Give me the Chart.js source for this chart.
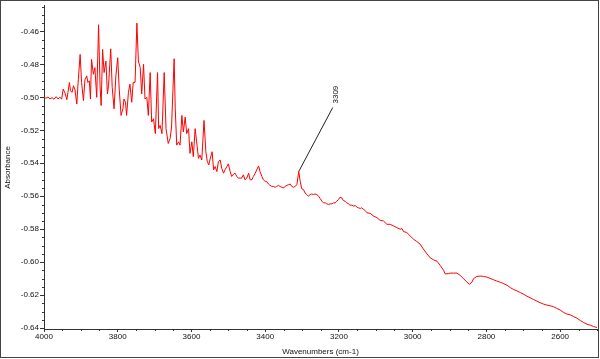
<!DOCTYPE html>
<html><head><meta charset="utf-8">
<script src="https://cdn.jsdelivr.net/npm/chart.js@4"></script>
<style>html,body{margin:0;padding:0;background:#fff}#wrap{width:600px;height:359px;position:relative}</style>
</head><body><div id="wrap"><canvas id="c" width="600" height="359"></canvas></div>
<script>
const wavenumbers = [
4000,3995,3989,3984,3978,3973,3967,3962,3957,3952,
3948,3943,3938,3935,3931,3928,3924,3920,3916,3911,
3907,3902,3898,3893,3889,3884,3881,3877,3874,3871,
3866,3862,3857,3852,3848,3845,3841,3837,3832,3828,
3825,3819,3815,3810,3805,3800,3796,3791,3786,3783,
3779,3776,3771,3767,3762,3758,3753,3748,3744,3739,
3735,3730,3726,3721,3717,3712,3708,3703,3698,3692,
3689,3685,3680,3674,3669,3663,3658,3654,3647,3644,
3640,3635,3631,3626,3622,3617,3613,3608,3604,3599,
3595,3590,3586,3581,3577,3572,3566,3561,3557,3553,
3550,3544,3540,3536,3531,3527,3522,3518,3513,3509,
3504,3500,3495,3491,3486,3482,3477,3473,
3464,3459,3455,3450,3445,3441,3436,3432,3427,3423,
3418,3414,3409,3405,3400,3396,3391,3387,3382,3378,
3373,3369,3364,3360,3355,3350,3346,3341,3337,3332,
3328,3323,3319,3314,3309,3305,3301,3296,3292,3287,
3283,3278,3274,3269,3265,3260,3255,3251,3246,3242,
3237,3233,3228,3224,3219,3215,3210,3206,3201,3197,
3192,3188,3183,3179,3174,3170,3165,3160,3156,3151,
3147,3142,3138,3133,3129,
3124,3115,3106,3097,3088,3079,3070,3061,3052,3043,
3034,3029,3025,3016,3007,2998,2989,2980,2971,2961,
2952,2943,2934,2925,2916,2912,2903,2898,
2889,2880,2871,2862,2853,2846,2839,2835,2826,2817,
2808,2799,2790,2781,2772,2762,2753,2744,2735,2726,
2717,2708,2699,2690,2681,2672,2663,2654,2645,2636,
2627,2618,2609,2600,2591,2582,2572,2563,2554,2545,
2536,2527,2518,2509,2500
];
const absorbance = [
-0.4996,-0.5006,-0.4998,-0.5010,-0.5002,-0.5012,-0.4996,-0.5010,-0.5000,-0.5010,
-0.4950,-0.4974,-0.5014,-0.4970,-0.4910,-0.4960,-0.4970,-0.4930,-0.4954,-0.5040,
-0.4894,-0.4740,-0.4910,-0.5020,-0.4894,-0.4870,-0.4910,-0.4900,-0.5010,-0.4770,
-0.4860,-0.4820,-0.5000,-0.4560,-0.4930,-0.5050,-0.4710,-0.4850,-0.4780,-0.4980,
-0.4930,-0.4706,-0.4940,-0.5070,-0.4870,-0.4760,-0.4950,-0.5110,-0.5070,-0.5010,
-0.5030,-0.5110,-0.4970,-0.4920,-0.5030,-0.4910,-0.4910,-0.4550,-0.4780,-0.4820,
-0.4980,-0.4800,-0.5010,-0.5000,-0.5110,-0.4850,-0.5150,-0.5130,-0.5220,-0.4850,
-0.5190,-0.5170,-0.5220,-0.4850,-0.5190,-0.5280,-0.5250,-0.5180,-0.4766,-0.5070,
-0.5290,-0.5270,-0.5290,-0.5110,-0.5210,-0.5120,-0.5220,-0.5190,-0.5340,-0.5270,
-0.5360,-0.5190,-0.5270,-0.5370,-0.5350,-0.5380,-0.5140,-0.5330,-0.5390,-0.5410,
-0.5380,-0.5330,-0.5440,-0.5420,-0.5450,-0.5390,-0.5380,-0.5430,-0.5460,-0.5440,
-0.5420,-0.5404,-0.5450,-0.5480,-0.5466,-0.5460,-0.5480,-0.5490,
-0.549,-0.547,-0.550,-0.549,-0.546,-0.550,-0.550,-0.548,-0.546,-0.544,
-0.5416,-0.545,-0.548,-0.550,-0.551,-0.551,-0.5526,-0.5534,-0.554,-0.554,
-0.5546,-0.554,-0.5534,-0.554,-0.5546,-0.555,-0.554,-0.5534,-0.553,-0.5526,
-0.554,-0.5546,-0.554,-0.553,-0.545,-0.551,-0.5554,-0.556,-0.558,-0.559,
-0.560,-0.559,-0.5586,-0.559,-0.5586,-0.559,-0.560,-0.5614,-0.563,-0.564,
-0.564,-0.5646,-0.565,-0.5646,-0.5646,-0.564,-0.564,-0.563,-0.562,-0.5606,
-0.561,-0.5626,-0.563,-0.564,-0.5646,-0.5654,-0.5654,-0.566,-0.5656,-0.5666,
-0.567,-0.5674,-0.567,-0.568,-0.5686,
-0.570,-0.5704,-0.572,-0.573,-0.5746,-0.575,-0.577,-0.577,-0.578,-0.579,
-0.580,-0.5796,-0.5814,-0.582,-0.584,-0.586,-0.5874,-0.589,-0.592,-0.595,
-0.5974,-0.5986,-0.5994,-0.602,-0.605,-0.607,-0.607,-0.6066,
-0.6066,-0.6066,-0.608,-0.610,-0.612,-0.6134,-0.612,-0.610,-0.6086,-0.6084,
-0.6086,-0.609,-0.6098,-0.6106,-0.6114,-0.6122,-0.613,-0.614,-0.6154,-0.6166,
-0.6174,-0.6184,-0.6194,-0.6206,-0.6216,-0.6226,-0.6236,-0.6246,-0.6254,-0.626,
-0.6264,-0.627,-0.628,-0.629,-0.6304,-0.6314,-0.632,-0.633,-0.634,-0.6354,
-0.6366,-0.6376,-0.6382,-0.639,-0.6396
];
const xTickValues = [4000,3800,3600,3400,3200,3000,2800,2600];
const yTickValues = [-0.64,-0.62,-0.60,-0.58,-0.56,-0.54,-0.52,-0.50,-0.48,-0.46];
const peakWavenumbers = [3309];
const peakAbsorbance = [-0.545];
const xTitle = 'Wavenumbers (cm-1)';
const yTitle = 'Absorbance';

const FONT = '"Liberation Sans", Arial, sans-serif';

const extras = {
  id: 'extras',
  afterDraw(chart) {
    const {ctx, chartArea: a, scales: {x, y}} = chart;
    ctx.save();
    ctx.strokeStyle = '#333';
    ctx.lineWidth = 1;
    ctx.beginPath();
    for (let w = 2500; w <= 4000; w += 50) {
      if (w % 200 === 0) continue;
      const px = Math.round(x.getPixelForValue(w)) + 0.5;
      ctx.moveTo(px, a.bottom);
      ctx.lineTo(px, a.bottom + 2);
    }
    for (let k = -128; k <= -89; k++) {
      if (k % 4 === 0) continue;
      const py = Math.round(y.getPixelForValue(k * 0.005)) + 0.5;
      ctx.moveTo(a.left - 2, py);
      ctx.lineTo(a.left, py);
    }
    ctx.stroke();
    peakWavenumbers.forEach((w, i) => {
      const px = x.getPixelForValue(w), py = y.getPixelForValue(peakAbsorbance[i]);
      const ex = px + 34, ey = py - 64;
      ctx.beginPath();
      ctx.moveTo(px, py);
      ctx.lineTo(ex, ey);
      ctx.strokeStyle = '#222';
      ctx.stroke();
      ctx.save();
      ctx.translate(ex + 3.5, ey - 4);
      ctx.rotate(-Math.PI / 2);
      ctx.font = '8px ' + FONT;
      ctx.fillStyle = '#111';
      ctx.textAlign = 'left';
      ctx.textBaseline = 'middle';
      ctx.fillText(String(w), 0, 0);
      ctx.restore();
    });
    ctx.strokeStyle = '#444';
    ctx.strokeRect(0.5, 0.5, 598, 357);
    ctx.restore();
  }
};

new Chart(document.getElementById('c'), {
  type: 'line',
  data: {
    datasets: [{
      data: wavenumbers.map((w, i) => ({x: w, y: absorbance[i]})),
      borderColor: '#ff0000',
      borderWidth: 1,
      pointRadius: 0,
      tension: 0,
      fill: false
    }]
  },
  options: {
    responsive: false,
    animation: false,
    devicePixelRatio: 1,
    layout: {padding: {left: 0, top: 2, right: 3, bottom: 0}},
    plugins: {legend: {display: false}, tooltip: {enabled: false}},
    scales: {
      x: {
        type: 'linear',
        reverse: true,
        min: 2500,
        max: 4000,
        afterBuildTicks: s => { s.ticks = xTickValues.map(v => ({value: v})); },
        afterFit: s => { s.height = 30; },
        ticks: {font: {family: FONT, size: 8}, color: '#111', maxRotation: 0, autoSkip: false, padding: 0, callback: v => String(v)},
        grid: {display: true, drawOnChartArea: false, drawTicks: true, tickLength: 3, color: '#333'},
        border: {display: true, color: '#333', width: 1},
        title: {display: true, text: xTitle, color: '#111', font: {family: FONT, size: 8}, padding: {top: 0, bottom: 2}}
      },
      y: {
        type: 'linear',
        min: -0.6405,
        max: -0.4445,
        afterBuildTicks: s => { s.ticks = yTickValues.map(v => ({value: v})); },
        afterFit: s => { s.width = 44; },
        ticks: {font: {family: FONT, size: 8}, color: '#111', padding: 1, autoSkip: false, callback: v => Number(v).toFixed(2)},
        grid: {display: true, drawOnChartArea: false, drawTicks: true, tickLength: 4, color: '#333'},
        border: {display: true, color: '#333', width: 1},
        title: {display: true, text: yTitle, color: '#111', font: {family: FONT, size: 8}, padding: {top: 3, bottom: 0}}
      }
    }
  },
  plugins: [extras]
});
</script>
</body></html>
